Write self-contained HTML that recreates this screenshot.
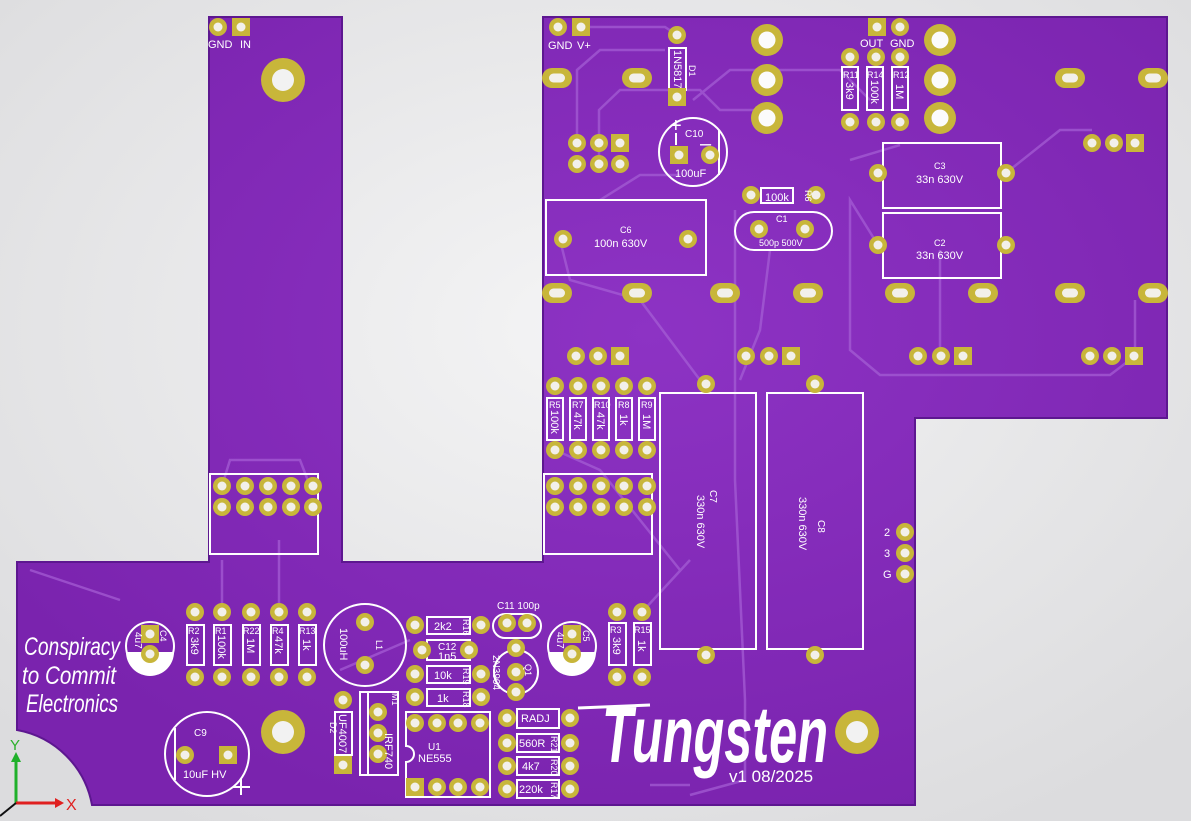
<!DOCTYPE html>
<html><head><meta charset="utf-8"><style>
html,body{margin:0;padding:0;background:#e9e9ea;}
svg{display:block}
text{font-family:"Liberation Sans",sans-serif;fill:#fff}
</style></head><body>
<svg width="1191" height="821" viewBox="0 0 1191 821" xmlns="http://www.w3.org/2000/svg">
<defs>
<radialGradient id="bg" cx="50%" cy="40%" r="70%"><stop offset="0" stop-color="#f4f4f5"/><stop offset="1" stop-color="#dcdcde"/></radialGradient>
<radialGradient id="brd" cx="55%" cy="40%" r="65%"><stop offset="0" stop-color="#8d33c4"/><stop offset="1" stop-color="#7a23ae"/></radialGradient>
<g id="p"><circle r="9" fill="#c8b63a"/><circle r="4.5" fill="#f2f0ea"/></g>
<g id="s"><rect x="-9" y="-9" width="18" height="18" fill="#c8b63a"/><circle r="4.5" fill="#f2f0ea"/></g>
<g id="b"><circle r="16" fill="#c8b63a"/><circle r="8.5" fill="#fbfbfb"/></g>
<g id="m"><circle r="22" fill="#c8b63a"/><circle r="11" fill="#f2f2f2"/></g>
<g id="o"><rect x="-15" y="-10" width="30" height="20" rx="10" fill="#c8b63a"/><rect x="-8" y="-4.5" width="16" height="9" rx="4.5" fill="#f2f0ea"/></g>
</defs>
<rect width="1191" height="821" fill="url(#bg)"/>
<path d="M209,17 H342 V562 H543 V17 H1167 V418 H915 V805 H92 A93,93 0 0 0 17,730 V562 H209 Z" fill="url(#brd)" stroke="#5d1790" stroke-width="2"/>

<g stroke="#a660d6" stroke-width="2.5" fill="none" opacity="0.7">
<path d="M590,27 H665 L677,35"/>
<path d="M577,143 V70 L600,50 H665"/>
<path d="M599,164 V110 L620,90 H700 L720,110 H767"/>
<path d="M693,100 L730,70 H840 L870,100"/>
<path d="M600,200 L640,175 H680"/>
<path d="M1006,173 L1060,130 H1092"/>
<path d="M850,160 L900,145"/>
<path d="M560,240 L570,280 L640,300 L700,380"/>
<path d="M735,210 V480 L745,700 V780 L690,795"/>
<path d="M770,250 L760,330 L740,380"/>
<path d="M878,245 L850,200 V350 L880,375 H1110 L1135,356 V300"/>
<path d="M940,250 V350"/>
<path d="M222,486 L230,460 H300 L310,486"/>
<path d="M222,612 V560"/><path d="M279,612 V540"/>
<path d="M555,450 L600,470 L640,520 L680,570"/>
<path d="M642,612 L690,560"/>
<path d="M340,670 L410,640"/>
<path d="M30,570 L120,600"/>
<path d="M650,785 H690"/>
</g>

<g stroke="#fff" stroke-width="2" fill="none">
<rect x="669" y="48" width="17" height="42"/>
<circle cx="693" cy="152" r="34"/><line x1="719" y1="130" x2="719" y2="175"/>
<rect x="842" y="67" width="16" height="43"/><rect x="867" y="67" width="16" height="43"/><rect x="892" y="67" width="16" height="43"/>
<rect x="761" y="188" width="32" height="15"/>
<rect x="735" y="212" width="97" height="38" rx="19"/>
<rect x="546" y="200" width="160" height="75"/>
<rect x="883" y="143" width="118" height="65"/>
<rect x="883" y="213" width="118" height="65"/>
<rect x="547" y="398" width="16" height="42"/><rect x="570" y="398" width="16" height="42"/><rect x="593" y="398" width="16" height="42"/><rect x="616" y="398" width="16" height="42"/><rect x="639" y="398" width="16" height="42"/>
<rect x="210" y="474" width="108" height="80"/>
<rect x="544" y="474" width="108" height="80"/>
<rect x="660" y="393" width="96" height="256"/>
<rect x="767" y="393" width="96" height="256"/>
<rect x="187" y="625" width="17" height="40"/><rect x="214" y="625" width="17" height="40"/><rect x="243" y="625" width="17" height="40"/><rect x="271" y="625" width="17" height="40"/><rect x="299" y="625" width="17" height="40"/>
<rect x="609" y="623" width="17" height="42"/><rect x="634" y="623" width="17" height="42"/>
<circle cx="365" cy="645" r="41"/>
<rect x="335" y="712" width="17" height="43"/>
<rect x="360" y="692" width="38" height="83"/><line x1="368" y1="692" x2="368" y2="775"/>
<rect x="427" y="617" width="43" height="17"/><rect x="427" y="640" width="43" height="20"/><rect x="427" y="666" width="43" height="17"/><rect x="427" y="689" width="43" height="17"/>
<rect x="493" y="614" width="48" height="24" rx="12"/>
<circle cx="516" cy="672" r="22"/>
<path d="M406,712 H490 V797 H406 V762 A8,8 0 0 0 406,746 Z"/>
<rect x="517" y="709" width="42" height="19"/><rect x="517" y="734" width="42" height="18"/><rect x="517" y="757" width="42" height="18"/><rect x="517" y="780" width="42" height="18"/>
<circle cx="207" cy="754" r="42"/><line x1="175" y1="728" x2="175" y2="780"/>
<line x1="233" y1="787" x2="250" y2="787"/><line x1="241" y1="779" x2="241" y2="795"/>
<line x1="676" y1="133" x2="676" y2="145"/>
</g>
<path d="M126,652 A24,24 0 0 0 174,652 Z" fill="#fff"/><circle cx="150" cy="646" r="24" fill="none" stroke="#fff" stroke-width="2"/>
<path d="M548,652 A24,24 0 0 0 596,652 Z" fill="#fff"/><circle cx="572" cy="646" r="24" fill="none" stroke="#fff" stroke-width="2"/>

<use href="#p" x="218" y="27"/><use href="#s" x="241" y="27"/>
<use href="#m" x="283" y="80"/><use href="#m" x="283" y="732"/><use href="#m" x="857" y="732"/>
<use href="#p" x="558" y="27"/><use href="#s" x="581" y="27"/>
<use href="#p" x="677" y="35"/><use href="#s" x="677" y="97"/>
<use href="#b" x="767" y="40"/><use href="#b" x="767" y="80"/><use href="#b" x="767" y="118"/>
<use href="#b" x="940" y="40"/><use href="#b" x="940" y="80"/><use href="#b" x="940" y="118"/>
<use href="#s" x="877" y="27"/><use href="#p" x="900" y="27"/>
<use href="#p" x="850" y="122"/><use href="#p" x="876" y="122"/><use href="#p" x="900" y="122"/>
<use href="#p" x="850" y="57"/><use href="#p" x="876" y="57"/><use href="#p" x="900" y="57"/>
<use href="#o" x="557" y="78"/><use href="#o" x="637" y="78"/><use href="#o" x="1070" y="78"/><use href="#o" x="1153" y="78"/>
<use href="#o" x="557" y="293"/><use href="#o" x="637" y="293"/><use href="#o" x="725" y="293"/><use href="#o" x="808" y="293"/><use href="#o" x="900" y="293"/><use href="#o" x="983" y="293"/><use href="#o" x="1070" y="293"/><use href="#o" x="1153" y="293"/>
<use href="#p" x="577" y="143"/><use href="#p" x="599" y="143"/><use href="#s" x="620" y="143"/><use href="#p" x="577" y="164"/><use href="#p" x="599" y="164"/><use href="#p" x="620" y="164"/>
<use href="#s" x="679" y="155"/><use href="#p" x="710" y="155"/>
<use href="#p" x="1092" y="143"/><use href="#p" x="1114" y="143"/><use href="#s" x="1135" y="143"/>
<use href="#p" x="751" y="195"/><use href="#p" x="816" y="195"/>
<use href="#p" x="759" y="229"/><use href="#p" x="805" y="229"/>
<use href="#p" x="563" y="239"/><use href="#p" x="688" y="239"/>
<use href="#p" x="878" y="173"/><use href="#p" x="1006" y="173"/><use href="#p" x="878" y="245"/><use href="#p" x="1006" y="245"/>
<use href="#p" x="576" y="356"/><use href="#p" x="598" y="356"/><use href="#s" x="620" y="356"/>
<use href="#p" x="746" y="356"/><use href="#p" x="769" y="356"/><use href="#s" x="791" y="356"/>
<use href="#p" x="918" y="356"/><use href="#p" x="941" y="356"/><use href="#s" x="963" y="356"/>
<use href="#p" x="1090" y="356"/><use href="#p" x="1112" y="356"/><use href="#s" x="1134" y="356"/>
<use href="#p" x="555" y="386"/><use href="#p" x="578" y="386"/><use href="#p" x="601" y="386"/><use href="#p" x="624" y="386"/><use href="#p" x="647" y="386"/>
<use href="#p" x="555" y="450"/><use href="#p" x="578" y="450"/><use href="#p" x="601" y="450"/><use href="#p" x="624" y="450"/><use href="#p" x="647" y="450"/>
<use href="#p" x="222" y="486"/><use href="#p" x="245" y="486"/><use href="#p" x="268" y="486"/><use href="#p" x="291" y="486"/><use href="#p" x="313" y="486"/>
<use href="#p" x="222" y="507"/><use href="#p" x="245" y="507"/><use href="#p" x="268" y="507"/><use href="#p" x="291" y="507"/><use href="#p" x="313" y="507"/>
<use href="#p" x="555" y="486"/><use href="#p" x="578" y="486"/><use href="#p" x="601" y="486"/><use href="#p" x="624" y="486"/><use href="#p" x="647" y="486"/>
<use href="#p" x="555" y="507"/><use href="#p" x="578" y="507"/><use href="#p" x="601" y="507"/><use href="#p" x="624" y="507"/><use href="#p" x="647" y="507"/>
<use href="#p" x="706" y="384"/><use href="#p" x="706" y="655"/><use href="#p" x="815" y="384"/><use href="#p" x="815" y="655"/>
<use href="#p" x="905" y="532"/><use href="#p" x="905" y="553"/><use href="#p" x="905" y="574"/>
<use href="#p" x="195" y="612"/><use href="#p" x="222" y="612"/><use href="#p" x="251" y="612"/><use href="#p" x="279" y="612"/><use href="#p" x="307" y="612"/>
<use href="#p" x="195" y="677"/><use href="#p" x="222" y="677"/><use href="#p" x="251" y="677"/><use href="#p" x="279" y="677"/><use href="#p" x="307" y="677"/>
<use href="#s" x="150" y="634"/><use href="#p" x="150" y="654"/>
<use href="#s" x="572" y="634"/><use href="#p" x="572" y="654"/>
<use href="#p" x="617" y="612"/><use href="#p" x="642" y="612"/><use href="#p" x="617" y="677"/><use href="#p" x="642" y="677"/>
<use href="#p" x="365" y="622"/><use href="#p" x="365" y="665"/>
<use href="#p" x="343" y="700"/><use href="#s" x="343" y="765"/>
<use href="#p" x="378" y="712"/><use href="#p" x="378" y="733"/><use href="#p" x="378" y="754"/>
<use href="#p" x="415" y="625"/><use href="#p" x="481" y="625"/>
<use href="#p" x="422" y="650"/><use href="#p" x="469" y="650"/>
<use href="#p" x="415" y="674"/><use href="#p" x="481" y="674"/><use href="#p" x="415" y="697"/><use href="#p" x="481" y="697"/>
<use href="#p" x="507" y="623"/><use href="#p" x="527" y="623"/>
<use href="#p" x="516" y="648"/><use href="#p" x="516" y="672"/><use href="#p" x="516" y="692"/>
<use href="#p" x="415" y="723"/><use href="#p" x="437" y="723"/><use href="#p" x="458" y="723"/><use href="#p" x="480" y="723"/>
<use href="#s" x="415" y="787"/><use href="#p" x="437" y="787"/><use href="#p" x="458" y="787"/><use href="#p" x="480" y="787"/>
<use href="#p" x="507" y="718"/><use href="#p" x="570" y="718"/><use href="#p" x="507" y="743"/><use href="#p" x="570" y="743"/><use href="#p" x="507" y="766"/><use href="#p" x="570" y="766"/><use href="#p" x="507" y="789"/><use href="#p" x="570" y="789"/>
<use href="#p" x="185" y="755"/><use href="#s" x="228" y="755"/>

<g font-size="11">
<text x="208" y="48">GND</text><text x="240" y="48">IN</text>
<text x="548" y="49">GND</text><text x="577" y="49">V+</text>
<text x="860" y="47">OUT</text><text x="890" y="47">GND</text>
<text x="685" y="137" font-size="10">C10</text><text x="675" y="177">100uF</text>
<text x="765" y="201">100k</text>
<text x="776" y="222" font-size="9">C1</text><text x="759" y="246" font-size="9">500p 500V</text>
<text x="620" y="233" font-size="9">C6</text><text x="594" y="247">100n 630V</text>
<text x="934" y="169" font-size="9">C3</text><text x="916" y="183">33n 630V</text>
<text x="934" y="246" font-size="9">C2</text><text x="916" y="259">33n 630V</text>
<text x="884" y="536">2</text><text x="884" y="557">3</text><text x="883" y="578">G</text>
<text x="497" y="609" font-size="10">C11 100p</text>
<text x="434" y="630">2k2</text><text x="438" y="650" font-size="10">C12</text><text x="438" y="660">1n5</text>
<text x="434" y="679">10k</text><text x="437" y="702">1k</text>
<text x="521" y="722">RADJ</text><text x="519" y="747">560R</text><text x="522" y="770">4k7</text><text x="519" y="793">220k</text>
<text x="428" y="750" font-size="10">U1</text><text x="418" y="762">NE555</text>
<text x="194" y="736" font-size="10">C9</text><text x="183" y="778">10uF HV</text>
<text x="729" y="782" font-size="17">v1 08/2025</text>
</g>
<g font-size="11">
<text transform="translate(674,50) rotate(90)">1N5817</text>
<text transform="translate(846,82) rotate(90)">3k9</text>
<text transform="translate(871,80) rotate(90)">100k</text>
<text transform="translate(896,84) rotate(90)">1M</text>
<text transform="translate(551,410) rotate(90)">100k</text>
<text transform="translate(574,412) rotate(90)">47k</text>
<text transform="translate(597,412) rotate(90)">47k</text>
<text transform="translate(620,414) rotate(90)">1k</text>
<text transform="translate(643,414) rotate(90)">1M</text>
<text transform="translate(710,490) rotate(90)" font-size="10">C7</text>
<text transform="translate(697,495) rotate(90)">330n 630V</text>
<text transform="translate(818,520) rotate(90)" font-size="10">C8</text>
<text transform="translate(799,497) rotate(90)">330n 630V</text>
<text transform="translate(191,637) rotate(90)">3k9</text>
<text transform="translate(218,635) rotate(90)">100k</text>
<text transform="translate(247,638) rotate(90)">1M</text>
<text transform="translate(275,636) rotate(90)">47k</text>
<text transform="translate(303,639) rotate(90)">1k</text>
<text transform="translate(613,637) rotate(90)">3k9</text>
<text transform="translate(638,640) rotate(90)">1k</text>
<text transform="translate(340,628) rotate(90)">100uH</text>
<text transform="translate(339,714) rotate(90)">UF4007</text>
<text transform="translate(385,733) rotate(90)">IRF740</text>
<text transform="translate(493,655) rotate(90)" font-size="10">2N3904</text>
<text transform="translate(135,632) rotate(90)" font-size="10">4u7</text>
<text transform="translate(557,632) rotate(90)" font-size="10">4u7</text>
</g>
<g font-size="9">
<text x="549" y="408">R5</text><text x="572" y="408">R7</text><text x="594" y="408">R10</text><text x="618" y="408">R8</text><text x="641" y="408">R9</text>
<text x="843" y="78">R11</text><text x="867" y="78">R14</text><text x="893" y="78">R12</text>
<text x="188" y="634">R2</text><text x="215" y="634">R1</text><text x="243" y="634">R22</text><text x="272" y="634">R4</text><text x="299" y="634">R13</text>
<text x="610" y="633">R3</text><text x="634" y="633">R15</text>
<text transform="translate(689,65) rotate(90)">D1</text>
<text transform="translate(805,190) rotate(90)">R6</text>
<text transform="translate(160,630) rotate(90)">C4</text>
<text transform="translate(583,630) rotate(90)">C5</text>
<text transform="translate(376,640) rotate(90)">L1</text>
<text transform="translate(330,722) rotate(90)">D2</text>
<text transform="translate(392,693) rotate(90)">M1</text>
<text transform="translate(525,664) rotate(90)">Q1</text>
<text transform="translate(463,619) rotate(90)">R16</text>
<text transform="translate(463,668) rotate(90)">R19</text>
<text transform="translate(463,691) rotate(90)">R18</text>
<text transform="translate(551,736) rotate(90)">R21</text>
<text transform="translate(551,759) rotate(90)">R20</text>
<text transform="translate(551,782) rotate(90)">R17</text>
</g>
<text x="670" y="132" font-size="20">+</text><text x="700" y="150" font-size="20">–</text>
<g font-family="Liberation Serif" font-style="italic" fill="#fff">
<text x="24" y="655" font-size="25" textLength="96" lengthAdjust="spacingAndGlyphs">Conspiracy</text>
<text x="22" y="684" font-size="25" textLength="94" lengthAdjust="spacingAndGlyphs">to Commit</text>
<text x="26" y="712" font-size="25" textLength="92" lengthAdjust="spacingAndGlyphs">Electronics</text>
</g>
<text x="602" y="762" font-size="80" font-style="italic" font-weight="bold" textLength="226" lengthAdjust="spacingAndGlyphs">Tungsten</text>
<line x1="578" y1="708" x2="650" y2="705" stroke="#fff" stroke-width="3"/>

<line x1="16" y1="803" x2="16" y2="760" stroke="#1fb02a" stroke-width="3"/>
<path d="M11,762 L16,752 L21,762 Z" fill="#1fb02a"/>
<text x="10" y="750" font-size="15" style="fill:#2bb02a">Y</text>
<line x1="16" y1="803" x2="57" y2="803" stroke="#e02020" stroke-width="3"/>
<path d="M55,798 L64,803 L55,808 Z" fill="#e02020"/>
<text x="66" y="810" font-size="16" style="fill:#e02020">X</text>
<line x1="16" y1="803" x2="0" y2="816" stroke="#111" stroke-width="2"/>
</svg>
</body></html>
